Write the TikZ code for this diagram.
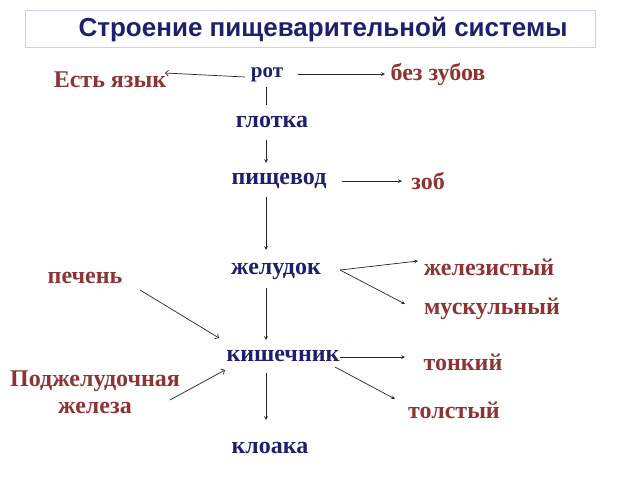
\documentclass[tikz,border=0pt]{standalone}
\usetikzlibrary{arrows.meta}
\usepackage{fontspec}
\setmainfont{Liberation Serif}
\newfontfamily\titlefont{Liberation Sans}
\definecolor{navy}{HTML}{1F1F6E}
\definecolor{brn}{HTML}{8E3434}
\begin{document}
\begin{tikzpicture}[x=1pt,y=-1pt,
  mainlbl/.style={font=\bfseries\fontsize{24}{26}\selectfont,text=navy,inner sep=0pt},
  sidelbl/.style={font=\bfseries\fontsize{24}{25}\selectfont,text=brn,inner sep=0pt,align=center},
  arr/.style={-stealth,draw=black!85,line width=0.7pt},
  arrO/.style={-{Straight Barb},draw=black!85,line width=0.7pt}]
\useasboundingbox (0,0) rectangle (640,480);
\draw[draw=blue!20,line width=1pt] (25,10) rectangle (595,47);
\node[font=\titlefont\bfseries\fontsize{26}{28}\selectfont,text=navy,inner sep=0pt] (title) at (323,30) {Строение пищеварительной системы};
\node[mainlbl,font=\bfseries\fontsize{21}{23}\selectfont] (rot) at (267,75) {рот};
\node[sidelbl] (yaz) at (110,80) {Есть язык};
\node[sidelbl] (zub) at (438,74) {без зубов};
\node[mainlbl] (glo) at (272,122) {глотка};
\node[mainlbl] (pis) at (279,181) {пищевод};
\node[sidelbl] (zob) at (428,181) {зоб};
\node[mainlbl] (zhe) at (276,271) {желудок};
\node[sidelbl] (zel) at (489,267) {железистый};
\node[sidelbl] (mus) at (492,309) {мускульный};
\node[sidelbl] (pec) at (85,278) {печень};
\node[mainlbl] (kis) at (283,356) {кишечник};
\node[sidelbl] (ton) at (463,362) {тонкий};
\node[sidelbl] (tol) at (454,410) {толстый};
\node[sidelbl] (pod) at (95,392) {Поджелудочная\\[2pt]железа};
\node[mainlbl] (klo) at (270,448) {клоака};
% connector ends
\coordinate (a1) at (298,74); \coordinate (a2) at (385,74);
\coordinate (b1) at (245,77); \coordinate (b2) at (165,73);
\coordinate (c1) at (266,87); \coordinate (c2) at (266,105);
\coordinate (d1) at (266,140); \coordinate (d2) at (266,163);
\coordinate (e1) at (342,181); \coordinate (e2) at (402,181);
\coordinate (f1) at (266,197); \coordinate (f2) at (266,250);
\coordinate (g0) at (340,270); \coordinate (g1) at (418,261); \coordinate (g2) at (405,304);
\coordinate (h1) at (140,290); \coordinate (h2) at (219,338);
\coordinate (i1) at (266,288); \coordinate (i2) at (266,340);
\coordinate (j1) at (340,357); \coordinate (j2) at (405,357);
\coordinate (k1) at (335,367); \coordinate (k2) at (395,399);
\coordinate (l1) at (170,400); \coordinate (l2) at (225,370);
\coordinate (m1) at (266,373); \coordinate (m2) at (266,420);
\draw[arr] (a1) -- (a2);
\draw[arrO] (b1) -- (b2);
\draw[draw=black!85,line width=0.7pt] (c1) -- (c2);
\draw[arr] (d1) -- (d2);
\draw[arr] (e1) -- (e2);
\draw[arr] (f1) -- (f2);
\draw[arr] (g0) -- (g1);
\draw[arr] (g0) -- (g2);
\draw[arrO] (h1) -- (h2);
\draw[arr] (i1) -- (i2);
\draw[arr] (j1) -- (j2);
\draw[arr] (k1) -- (k2);
\draw[arrO] (l1) -- (l2);
\draw[arr] (m1) -- (m2);
\end{tikzpicture}
\end{document}
